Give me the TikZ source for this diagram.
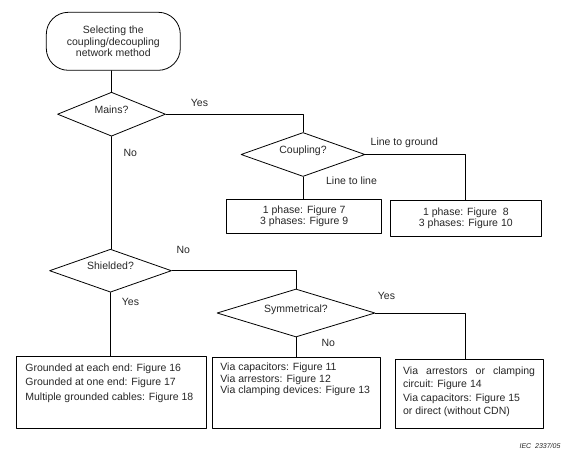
\documentclass[tikz,border=0pt]{standalone}
\usepackage{fontspec}
\setmainfont{Liberation Sans}
\usetikzlibrary{shapes.geometric}

\begin{document}
\begin{tikzpicture}[x=1pt, y=-1pt, line width=0.8pt, line join=round, line cap=round,
    every node/.style={font=\fontsize{10.5}{11.5}\selectfont, text=black!85},
    startstop/.style={draw, rectangle, rounded corners=22pt, align=center, inner sep=0pt,
        font=\fontsize{10.5}{11.8}\selectfont},
    decision/.style={draw, diamond, aspect=2.8, inner sep=0pt, text height=7.5pt, text depth=9pt},
    block/.style={draw, rectangle, align=center, inner sep=0pt, font=\fontsize{10.5}{11}\selectfont},
    boxtext/.style={anchor=north west, inner sep=0pt, align=left},
    lbl/.style={inner sep=0pt, text height=7.5pt, text depth=0pt}]
    \useasboundingbox (0,0) rectangle (580,457);

    % start and decisions
    \node[startstop, minimum width=134pt, minimum height=58pt] (start) at (113.3,41.3)
        {Selecting the\\coupling/decoupling\\network method};
    \node[decision, minimum width=108pt, minimum height=44pt] (mains) at (111.5,114.2) {Mains?};
    \node[decision, minimum width=124pt, minimum height=44pt] (coupling) at (303,154.5) {Coupling?};
    \node[decision, minimum width=122pt, minimum height=43pt] (shielded) at (110.5,270.7) {Shielded?};
    \node[decision, minimum width=158pt, minimum height=48pt] (sym) at (296,313) {Symmetrical?};

    % result boxes
    \node[block, minimum width=155pt, minimum height=34pt] (ltl) at (304.2,216.3)
        {1 phase: Figure 7\\3 phases: Figure 9};
    \node[block, minimum width=151.7pt, minimum height=36pt] (ltg) at (465.8,218)
        {1 phase: Figure~~8\\3 phases: Figure 10};

    \node[block, minimum width=189.3pt, minimum height=71.6pt] (gnd) at (111.3,392.5) {};
    \node[boxtext, font=\fontsize{10.5}{14.7}\selectfont] (gndtxt) at (25,363.2)
        {Grounded at each end: Figure 16\\Grounded at one end: Figure 17\\Multiple grounded cables: Figure 18};
    \node[block, minimum width=167.7pt, minimum height=70.6pt] (viaM) at (296.2,393) {};
    \node[boxtext, font=\fontsize{10.5}{11.3}\selectfont] (viaMtxt) at (220,362.8)
        {Via capacitors: Figure 11\\Via arrestors: Figure 12\\Via clamping devices: Figure 13};
    \node[block, minimum width=148.3pt, minimum height=69pt] (viaR) at (469.2,393.8) {};
    \node[boxtext, font=\fontsize{10.5}{13.3}\selectfont] (viaRtxt) at (402.7,366.6)
        {\makebox[132pt][s]{Via arrestors or clamping}\\circuit: Figure 14\\Via capacitors: Figure 15\\or direct (without CDN)};

    % branch labels
    \node[lbl] (yes1) at (199.5,102.3) {Yes};
    \node[lbl] (no1) at (130.3,152.3) {No};
    \node[lbl] (ltgl) at (404.3,141.7) {Line to ground};
    \node[lbl] (ltll) at (351.5,181) {Line to line};
    \node[lbl] (no2) at (183.3,250) {No};
    \node[lbl] (yes2) at (130.5,301.7) {Yes};
    \node[lbl] (yes3) at (386.5,296) {Yes};
    \node[lbl] (no3) at (328.3,342.3) {No};
    \node[inner sep=0pt, font=\fontsize{7}{8}\selectfont\itshape] (iec) at (540,445.7) {IEC\ \ 2337/05};

    \draw (mains.north |- start.south) -- (mains.north);
    \draw (mains.east) -| (coupling.north);
    \draw (coupling.east) -| (ltg.north);
    \draw (coupling.south) -- (coupling.south |- ltl.north);
    \draw (mains.south) -- (mains.south |- shielded.north);
    \draw (shielded.east) -| (sym.north);
    \draw (sym.east) -| ([xshift=-3.5pt]viaR.north);
    \draw (sym.south) -- (sym.south |- viaM.north);
    \draw (shielded.south) -- (shielded.south |- gnd.north);
\end{tikzpicture}
\end{document}
